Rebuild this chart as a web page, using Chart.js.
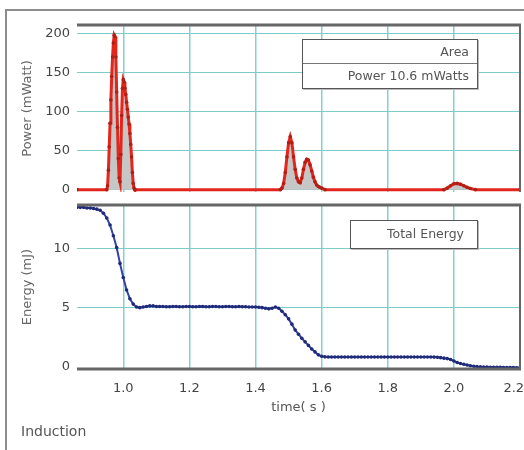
<!DOCTYPE html>
<html>
<head>
  <meta charset="UTF-8">
  <title>Power / Energy</title>
  <script src="https://cdn.jsdelivr.net/npm/chart.js"></script>
  <style>
    body {
      margin: 0;
      padding: 0;
      width: 524px;
      height: 450px;
      overflow: hidden;
      position: relative;
      background-color: white;
      font-family: "DejaVu Sans", sans-serif;
    }
    .marco {
      position: absolute;
      left: 5px;
      top: 9px;
      width: 540px;
      height: 470px;
      border: 2px solid #8c8c8c;
    }
    canvas { position: absolute; left: 0; }
    #graficaPotencia { top: 0; }
    #graficaEnergia { top: 200px; }
    .leyenda {
      position: absolute;
      box-sizing: border-box;
      background: white;
      border: 1.5px solid #555;
      box-shadow: 1px 1px 0 #bbb;
      color: #555;
      font-size: 12.5px;
      text-align: right;
    }
    .leyenda div { padding-right: 8px; }
    .induccion {
      position: absolute;
      left: 21px;
      top: 423px;
      font-size: 14px;
      color: #555;
    }
  </style>
</head>
<body>
  <div class="marco"></div>
  <canvas id="graficaPotencia" width="524" height="200"></canvas>
  <canvas id="graficaEnergia" width="524" height="250"></canvas>

  <div class="leyenda" style="left:302px; top:39px; width:176px; height:50px;">
    <div style="height:23px; line-height:23px; border-bottom:1px solid #777;">Area</div>
    <div style="height:23px; line-height:23px;">Power 10.6 mWatts</div>
  </div>
  <div class="leyenda" style="left:350px; top:220px; width:128px; height:29px; line-height:26px;">
    <div style="padding-right:13px;">Total Energy</div>
  </div>
  <div class="induccion">Induction</div>

  <script type="text/javascript">
    // potencia (mWatt) vs tiempo (s)
    const tiempoPotencia = [
      0.86, 0.95,
      0.9525, 0.955, 0.9575, 0.96, 0.9625, 0.965, 0.9675, 0.97, 0.9725, 0.975,
      0.9775, 0.98, 0.9825, 0.985, 0.9875, 0.99, 0.9925, 0.995, 0.9975, 1.0,
      1.0025, 1.005, 1.0075, 1.01, 1.0125, 1.015, 1.0175, 1.02, 1.0225, 1.025,
      1.0275, 1.03, 1.0325, 1.035,
      1.475, 1.48, 1.485, 1.49, 1.495, 1.5, 1.505, 1.51, 1.515, 1.52, 1.525,
      1.53, 1.535, 1.54, 1.545, 1.55, 1.555, 1.56, 1.565, 1.57, 1.575, 1.58,
      1.585, 1.59, 1.595, 1.6, 1.61,
      1.97, 1.98, 1.99, 2.0, 2.01, 2.02, 2.03, 2.04, 2.05, 2.065,
      2.2
    ];
    const valoresPotencia = [
      0, 0,
      5, 25, 55, 85, 115, 145, 170, 188, 198, 196,
      170, 125, 80, 40, 15, 10, 45, 95, 130, 141,
      138, 130, 122, 112, 103, 93, 84, 72, 58, 42,
      22, 8, 2, 0,
      0, 2, 8, 22, 42, 60, 68, 60, 42, 26, 15,
      10, 9, 15, 26, 35, 39, 38, 32, 24, 16, 10,
      6, 4, 3, 2, 0,
      0, 2, 5, 7.5, 8, 7, 5, 3, 1.5, 0,
      0
    ];

    // energia total (mJ) vs tiempo (s)
    const tiempoEnergia = [
      0.86, 0.87, 0.88, 0.89,
      0.90, 0.91, 0.92, 0.93, 0.94, 0.95, 0.96, 0.97, 0.98, 0.99,
      1.00, 1.01, 1.02, 1.03, 1.04, 1.05, 1.06, 1.07, 1.08, 1.09,
      1.10, 1.11, 1.12, 1.13, 1.14, 1.15, 1.16, 1.17, 1.18, 1.19,
      1.20, 1.21, 1.22, 1.23, 1.24, 1.25, 1.26, 1.27, 1.28, 1.29,
      1.30, 1.31, 1.32, 1.33, 1.34, 1.35, 1.36, 1.37, 1.38, 1.39,
      1.40, 1.41, 1.42, 1.43, 1.44, 1.45, 1.46, 1.47, 1.48, 1.49,
      1.50, 1.51, 1.52, 1.53, 1.54, 1.55, 1.56, 1.57, 1.58, 1.59,
      1.60, 1.61, 1.62, 1.63, 1.64, 1.65, 1.66, 1.67, 1.68, 1.69,
      1.70, 1.71, 1.72, 1.73, 1.74, 1.75, 1.76, 1.77, 1.78, 1.79,
      1.80, 1.81, 1.82, 1.83, 1.84, 1.85, 1.86, 1.87, 1.88, 1.89,
      1.90, 1.91, 1.92, 1.93, 1.94, 1.95, 1.96, 1.97, 1.98, 1.99,
      2.00, 2.01, 2.02, 2.03, 2.04, 2.05, 2.06, 2.07, 2.08, 2.09,
      2.10, 2.11, 2.12, 2.13, 2.14, 2.15, 2.16, 2.17, 2.18, 2.19,
      2.20
    ];
    const valoresEnergia = [
      13.5, 13.5, 13.5, 13.45,
      13.45, 13.4, 13.35, 13.25, 13.0, 12.6, 12.0, 11.1, 10.1, 8.75,
      7.55, 6.5, 5.75, 5.3, 5.05, 5.0, 5.05, 5.1, 5.15, 5.15,
      5.1, 5.1, 5.1, 5.08, 5.08, 5.1, 5.1, 5.08, 5.08, 5.1,
      5.1, 5.08, 5.08, 5.1, 5.1, 5.08, 5.08, 5.1, 5.1, 5.08,
      5.08, 5.1, 5.1, 5.08, 5.08, 5.1, 5.08, 5.08, 5.06, 5.05,
      5.05, 5.03, 5.0, 4.95, 4.9, 4.95, 5.05, 4.95, 4.7, 4.4,
      4.05, 3.6, 3.1, 2.75, 2.4, 2.1, 1.8, 1.5, 1.25, 1.0,
      0.88, 0.83, 0.82, 0.82, 0.82, 0.82, 0.82, 0.82, 0.82, 0.82,
      0.82, 0.82, 0.82, 0.82, 0.82, 0.82, 0.82, 0.82, 0.82, 0.82,
      0.82, 0.82, 0.82, 0.82, 0.82, 0.82, 0.82, 0.82, 0.82, 0.82,
      0.82, 0.82, 0.82, 0.82, 0.81, 0.8, 0.76, 0.72, 0.68, 0.6,
      0.48, 0.35, 0.27, 0.2, 0.14, 0.08, 0.03, 0.0, -0.02, -0.03,
      -0.04, -0.05, -0.05, -0.06, -0.06, -0.07, -0.07, -0.08, -0.08, -0.09,
      -0.1
    ];

    const ticksTiempo = [1.0, 1.2, 1.4, 1.6, 1.8, 2.0, 2.2];
    const ticksPotencia = [0, 50, 100, 150, 200];
    const ticksEnergia = [0, 5, 10];

    const colorRejilla = '#7ccbcd';
    const colorTexto = '#444';
    const fuente = { family: 'DejaVu Sans', size: 13 };

    // bordes superior / derecho / inferior del area de trazado
    const bordes = {
      id: 'bordes',
      afterDatasetsDraw(chart, args, opts) {
        const { ctx, chartArea: a } = chart;
        ctx.save();
        ctx.strokeStyle = '#666';
        ctx.lineWidth = 3;
        ctx.beginPath();
        ctx.moveTo(a.left, a.top);
        ctx.lineTo(a.right + 1, a.top);
        if (opts.abajo) {
          ctx.moveTo(a.left, a.bottom);
          ctx.lineTo(a.right + 1, a.bottom);
        }
        ctx.stroke();
        ctx.lineWidth = 2;
        ctx.beginPath();
        ctx.moveTo(a.right, a.top);
        ctx.lineTo(a.right, a.bottom);
        ctx.stroke();
        ctx.restore();
      }
    };

    const ejeX = (conEtiquetas) => ({
      type: 'linear',
      min: 0.86,
      max: 2.2,
      afterBuildTicks: s => { s.ticks = ticksTiempo.map(v => ({ value: v })); },
      afterFit: s => { s.height = conEtiquetas ? 81 : 0; s.paddingLeft = 0; s.paddingRight = 0; },
      ticks: {
        display: conEtiquetas,
        font: fuente,
        color: colorTexto,
        padding: 12,
        maxRotation: 0,
        // la ultima etiqueta se corre a la izquierda como en el original
        callback: v => v === 2.2 ? '2.2\u00a0\u00a0\u00a0' : v.toFixed(1)
      },
      grid: { color: '#86cfd0', lineWidth: 1.5, drawTicks: false },
      border: { display: false },
      title: {
        display: conEtiquetas,
        text: 'time( s )',
        font: fuente,
        color: '#555',
        padding: { top: 0, bottom: 35 }
      }
    });

    function ejeY(min, max, valores, titulo) {
      return {
        min: min,
        max: max,
        afterBuildTicks: s => { s.ticks = valores.map(v => ({ value: v })); },
        afterFit: s => { s.width = 77; s.paddingTop = 0; s.paddingBottom = 0; },
        ticks: { font: fuente, color: colorTexto, padding: 7 },
        grid: {
          color: c => (c.tick && c.tick.value === 0 && min > -1) ? 'rgba(0,0,0,0)' : colorRejilla,
          drawTicks: false
        },
        border: { display: false },
        title: {
          display: true,
          text: titulo,
          font: fuente,
          color: '#666',
          padding: { top: 20, bottom: 0 }
        }
      };
    }

    new Chart(document.getElementById('graficaPotencia'), {
      type: 'line',
      data: {
        datasets: [{
          label: 'Power',
          data: tiempoPotencia.map((t, i) => ({ x: t, y: valoresPotencia[i] })),
          borderColor: '#e2261c',
          borderWidth: 3,
          backgroundColor: '#c6c6c6',
          fill: 'origin',
          pointRadius: 1.8,
          pointBorderWidth: 0,
          pointBackgroundColor: '#b01e16',
          tension: 0
        }]
      },
      options: {
        responsive: false,
        animation: false,
        layout: { padding: { left: 0, top: 25, right: 3, bottom: 8 } },
        plugins: { legend: { display: false }, tooltip: { enabled: false }, bordes: { abajo: false } },
        scales: {
          x: ejeX(false),
          y: ejeY(-3, 211, ticksPotencia, 'Power (mWatt)')
        }
      },
      plugins: [bordes]
    });

    new Chart(document.getElementById('graficaEnergia'), {
      type: 'line',
      data: {
        datasets: [{
          label: 'Total Energy',
          data: tiempoEnergia.map((t, i) => ({ x: t, y: valoresEnergia[i] })),
          borderColor: '#3443a0',
          borderWidth: 2,
          fill: false,
          pointRadius: 1.8,
          pointBorderWidth: 0,
          pointBackgroundColor: '#1f2a78',
          tension: 0
        }]
      },
      options: {
        responsive: false,
        animation: false,
        layout: { padding: { left: 0, top: 5, right: 3, bottom: 0 } },
        plugins: { legend: { display: false }, tooltip: { enabled: false }, bordes: { abajo: true } },
        scales: {
          x: ejeX(true),
          y: ejeY(-0.2, 13.7, ticksEnergia, 'Energy (mJ)')
        }
      },
      plugins: [bordes]
    });
  </script>
</body>
</html>
